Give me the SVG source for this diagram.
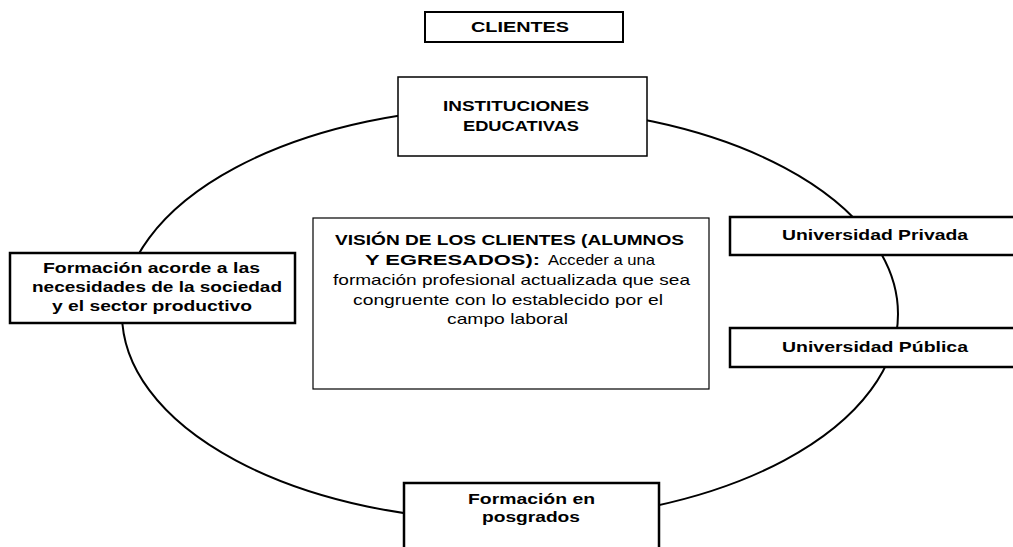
<svg xmlns="http://www.w3.org/2000/svg" width="1013" height="547" viewBox="0 0 1013 547">
<style>
  .box { fill: #fff; stroke: #000; }
  .t { font-family: "Liberation Sans", Arial, sans-serif; font-size: 15px; fill: #000; }
  .b { font-weight: bold; }
</style>
<rect width="1013" height="547" fill="#fff"/>
<g id="connectors">
  <ellipse cx="510" cy="314" rx="388" ry="207" fill="none" stroke="#000" stroke-width="2"/>
</g>
<g id="clientes">
  <rect class="box" x="425" y="12" width="198" height="30" stroke-width="2"/>
  <text class="t b" x="471" y="32" textLength="98" lengthAdjust="spacingAndGlyphs">CLIENTES</text>
</g>
<g id="instituciones">
  <rect class="box" x="398" y="77" width="249" height="79" stroke-width="1.5"/>
  <text class="t b" x="443" y="111" textLength="146" lengthAdjust="spacingAndGlyphs">INSTITUCIONES</text>
  <text class="t b" x="463" y="131" textLength="116" lengthAdjust="spacingAndGlyphs">EDUCATIVAS</text>
</g>
<g id="vision">
  <rect class="box" x="313" y="218" width="396" height="171" stroke="#222" stroke-width="1.2"/>
  <text class="t b" x="335" y="245" textLength="349" lengthAdjust="spacingAndGlyphs">VISIÓN DE LOS CLIENTES (ALUMNOS</text>
  <text class="t b" x="365" y="265" textLength="175" lengthAdjust="spacingAndGlyphs">Y EGRESADOS):</text>
  <text class="t" x="548" y="265" textLength="107" lengthAdjust="spacingAndGlyphs">Acceder a una</text>
  <text class="t" x="333" y="285" textLength="357" lengthAdjust="spacingAndGlyphs">formación profesional actualizada que sea</text>
  <text class="t" x="353" y="305" textLength="310" lengthAdjust="spacingAndGlyphs">congruente con lo establecido por el</text>
  <text class="t" x="447" y="324" textLength="121" lengthAdjust="spacingAndGlyphs">campo laboral</text>
</g>
<g id="formacion-acorde">
  <rect class="box" x="10" y="253" width="285" height="70" stroke-width="2.5"/>
  <text class="t b" x="43" y="273" textLength="217" lengthAdjust="spacingAndGlyphs">Formación acorde a las</text>
  <text class="t b" x="32" y="292" textLength="250" lengthAdjust="spacingAndGlyphs">necesidades de la sociedad</text>
  <text class="t b" x="52" y="311" textLength="200" lengthAdjust="spacingAndGlyphs">y el sector productivo</text>
</g>
<g id="universidad-privada">
  <rect class="box" x="730" y="217" width="290" height="38" stroke-width="2.5"/>
  <text class="t b" x="782" y="240" textLength="186" lengthAdjust="spacingAndGlyphs">Universidad Privada</text>
</g>
<g id="universidad-publica">
  <rect class="box" x="730" y="328" width="290" height="39" stroke-width="2.5"/>
  <text class="t b" x="782" y="352" textLength="186" lengthAdjust="spacingAndGlyphs">Universidad Pública</text>
</g>
<g id="posgrados">
  <rect class="box" x="404" y="483" width="255" height="80" stroke-width="2.5"/>
  <text class="t b" x="468" y="504" textLength="127" lengthAdjust="spacingAndGlyphs">Formación en</text>
  <text class="t b" x="482" y="522" textLength="98" lengthAdjust="spacingAndGlyphs">posgrados</text>
</g>
</svg>
